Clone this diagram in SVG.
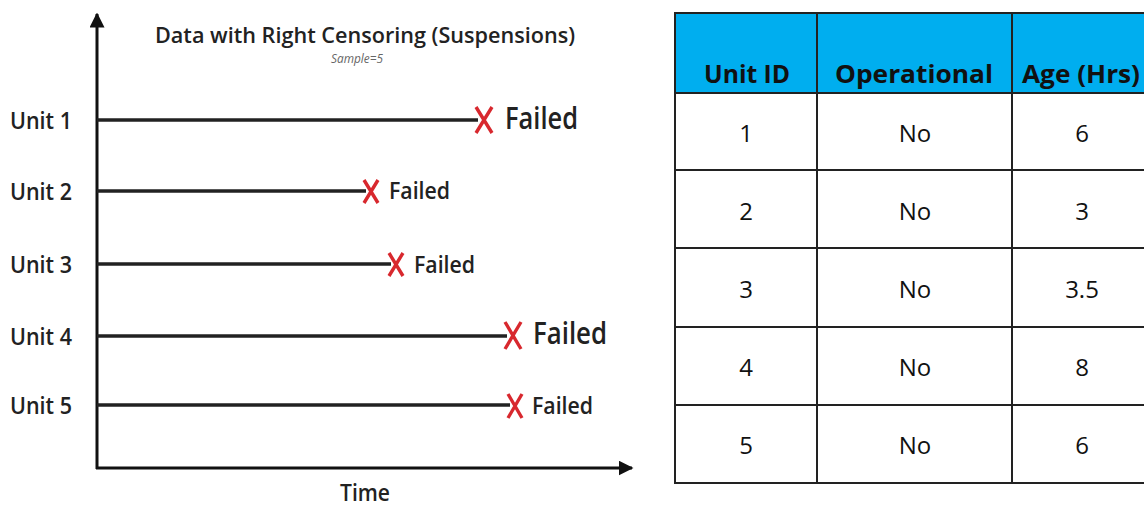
<svg xmlns="http://www.w3.org/2000/svg" width="1144" height="506" viewBox="0 0 1144 506">
  <style>
    .axis { stroke: #111; stroke-width: 3; fill: none; }
    .bar { stroke: #222; stroke-width: 3.5; fill: none; }
    .cross { stroke: #d8282e; stroke-width: 3.4; fill: none; stroke-linecap: butt; }
    .lbl { font-family: "Open Sans", "Liberation Sans", sans-serif; font-weight: 600; fill: #222; }
    .unit { font-size: 24px; }
    .failL { font-size: 31px; }
    .failS { font-size: 24px; }
    .title { font-size: 22px; }
    .sub { font-family: "Open Sans", "Liberation Sans", sans-serif; font-style: italic; font-size: 12px; fill: #666; }
    .grid { stroke: #222; stroke-width: 2; fill: none; }
    .th { font-family: "Open Sans", "Liberation Sans", sans-serif; font-weight: 700; font-size: 25px; fill: #111; text-anchor: middle; }
    .td { font-family: "Open Sans", "Liberation Sans", sans-serif; font-size: 24px; fill: #111; text-anchor: middle; }
  </style>
  <defs>
    <marker id="arrow" viewBox="0 0 10 10" refX="9" refY="5" markerWidth="5" markerHeight="5" orient="auto" markerUnits="strokeWidth">
      <path d="M0,0 L10,5 L0,10 z" fill="#111"/>
    </marker>
  </defs>
  <rect width="1144" height="506" fill="#fff"/>

  <!-- chart title -->
  <g id="title">
    <text class="lbl title" x="365" y="43" text-anchor="middle" textLength="420" lengthAdjust="spacingAndGlyphs">Data with Right Censoring (Suspensions)</text>
    <text class="sub" x="357" y="63" text-anchor="middle" textLength="52" lengthAdjust="spacingAndGlyphs">Sample=5</text>
  </g>

  <!-- axes and unit lifelines -->
  <g id="connectors">
    <line class="axis" x1="97" y1="469" x2="97" y2="14" marker-end="url(#arrow)"/>
    <line class="axis" x1="96" y1="468" x2="632" y2="468" marker-end="url(#arrow)"/>
    <line class="bar" x1="97" y1="120" x2="478" y2="120"/>
    <line class="bar" x1="97" y1="191" x2="366" y2="191"/>
    <line class="bar" x1="97" y1="264" x2="391" y2="264"/>
    <line class="bar" x1="97" y1="336" x2="507" y2="336"/>
    <line class="bar" x1="97" y1="405" x2="510" y2="405"/>
  </g>

  <g id="unit1">
    <text class="lbl unit" x="10" y="129" textLength="62" lengthAdjust="spacingAndGlyphs">Unit 1</text>
    <path class="cross" d="M476,107 L492,133 M492,107 L476,133"/>
    <text class="lbl failL" x="505" y="129" textLength="73" lengthAdjust="spacingAndGlyphs">Failed</text>
  </g>
  <g id="unit2">
    <text class="lbl unit" x="10" y="200" textLength="62" lengthAdjust="spacingAndGlyphs">Unit 2</text>
    <path class="cross" d="M364,180 L378,203 M378,180 L364,203"/>
    <text class="lbl failS" x="389" y="199" textLength="61" lengthAdjust="spacingAndGlyphs">Failed</text>
  </g>
  <g id="unit3">
    <text class="lbl unit" x="10" y="273" textLength="62" lengthAdjust="spacingAndGlyphs">Unit 3</text>
    <path class="cross" d="M389,253 L403,276 M403,253 L389,276"/>
    <text class="lbl failS" x="414" y="273" textLength="61" lengthAdjust="spacingAndGlyphs">Failed</text>
  </g>
  <g id="unit4">
    <text class="lbl unit" x="10" y="345" textLength="62" lengthAdjust="spacingAndGlyphs">Unit 4</text>
    <path class="cross" d="M505,322 L521,349 M521,322 L505,349"/>
    <text class="lbl failL" x="533" y="344" textLength="74" lengthAdjust="spacingAndGlyphs">Failed</text>
  </g>
  <g id="unit5">
    <text class="lbl unit" x="10" y="414" textLength="62" lengthAdjust="spacingAndGlyphs">Unit 5</text>
    <path class="cross" d="M508,394 L522,418 M522,394 L508,418"/>
    <text class="lbl failS" x="532" y="414" textLength="61" lengthAdjust="spacingAndGlyphs">Failed</text>
  </g>

  <g id="time-label">
    <text class="lbl unit" x="365" y="501" text-anchor="middle" textLength="50" lengthAdjust="spacingAndGlyphs">Time</text>
  </g>

  <!-- data table -->
  <g id="table">
    <rect x="675" y="13" width="480" height="80" fill="#00aeef"/>
    <rect class="grid" x="675" y="13" width="480" height="470"/>
    <line class="grid" x1="817" y1="13" x2="817" y2="483"/>
    <line class="grid" x1="1012" y1="13" x2="1012" y2="483"/>
    <line class="grid" x1="675" y1="93" x2="1155" y2="93"/>
    <line class="grid" x1="675" y1="170" x2="1155" y2="170"/>
    <line class="grid" x1="675" y1="248" x2="1155" y2="248"/>
    <line class="grid" x1="675" y1="327" x2="1155" y2="327"/>
    <line class="grid" x1="675" y1="405" x2="1155" y2="405"/>

    <text class="th" x="747" y="83" textLength="86" lengthAdjust="spacingAndGlyphs">Unit ID</text>
    <text class="th" x="914" y="83" textLength="158" lengthAdjust="spacingAndGlyphs">Operational</text>
    <text class="th" x="1081" y="83" textLength="118" lengthAdjust="spacingAndGlyphs">Age (Hrs)</text>

    <text class="td" x="746" y="142">1</text>
    <text class="td" x="915" y="142">No</text>
    <text class="td" x="1082" y="142">6</text>

    <text class="td" x="746" y="220">2</text>
    <text class="td" x="915" y="220">No</text>
    <text class="td" x="1082" y="220">3</text>

    <text class="td" x="746" y="298">3</text>
    <text class="td" x="915" y="298">No</text>
    <text class="td" x="1082" y="298">3.5</text>

    <text class="td" x="746" y="376">4</text>
    <text class="td" x="915" y="376">No</text>
    <text class="td" x="1082" y="376">8</text>

    <text class="td" x="746" y="454">5</text>
    <text class="td" x="915" y="454">No</text>
    <text class="td" x="1082" y="454">6</text>
  </g>
</svg>
